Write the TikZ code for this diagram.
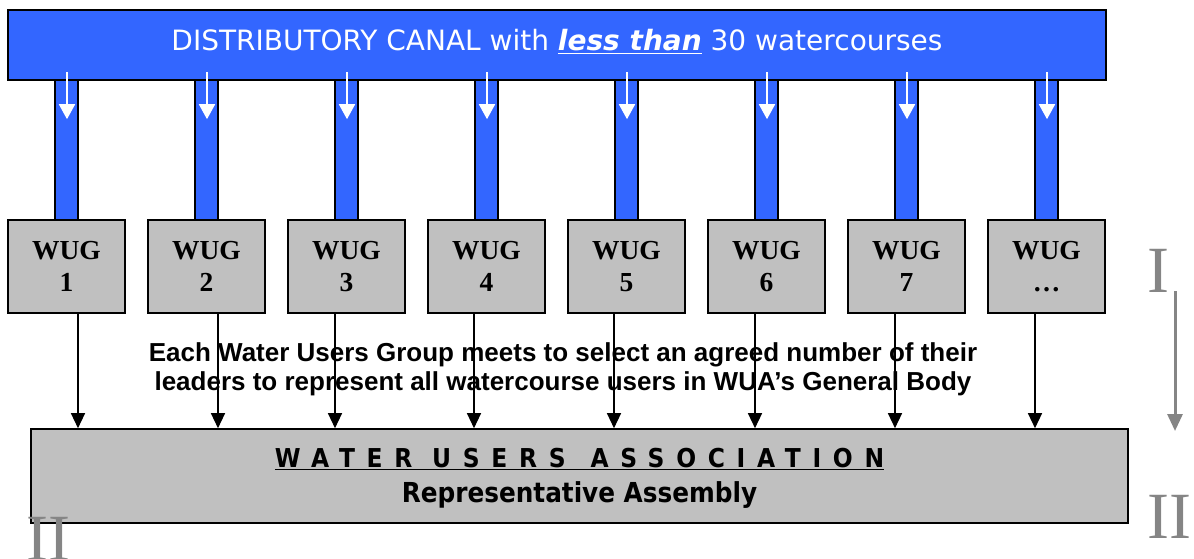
\documentclass[tikz,border=0pt]{standalone}
\usepackage{fontspec}
\setmainfont{Liberation Serif}
\newfontfamily\canalfont{DejaVu Sans}
\newfontfamily\arialfont{Liberation Sans}
\newfontfamily\wuafont{DejaVu Sans Condensed}
\newfontfamily\wuaspaced[LetterSpace=45]{DejaVu Sans Condensed}
\usetikzlibrary{arrows.meta,calc}
\definecolor{canalblue}{HTML}{3366FF}
\definecolor{boxgray}{HTML}{C0C0C0}
\definecolor{numgray}{HTML}{858585}
\tikzset{
  canal/.style={draw=black,line width=1.6pt,fill=canalblue,minimum width=1098pt,minimum height=70pt,inner sep=0pt},
  pipe/.style={draw=black,line width=1.6pt,fill=canalblue,minimum width=23pt,minimum height=140pt,inner sep=0pt},
  wug/.style={draw=black,line width=1.6pt,fill=boxgray,minimum width=117pt,minimum height=93pt,inner sep=0pt,
    align=center,font=\fontsize{27.5}{33}\selectfont\bfseries},
  wua/.style={draw=black,line width=1.6pt,fill=boxgray,minimum width=1097pt,minimum height=94pt,inner sep=0pt},
  warr/.style={draw=white,line width=1.8pt,-{Triangle[width=16pt,length=15pt]}},
  barr/.style={draw=black,line width=1.3pt,-{Triangle[width=14pt,length=15pt]}},
  garr/.style={draw=numgray,line width=3pt,-{Triangle[width=15pt,length=17pt]}},
  roman/.style={text=numgray,font=\fontsize{66}{66}\selectfont,inner sep=0pt,anchor=base}
}
\begin{document}
\begin{tikzpicture}[x=1pt,y=-1pt]
\useasboundingbox (0,0) rectangle (1194,559);
% pipes
\foreach \i in {1,...,8}{
  \node[pipe] (p\i) at ({66.5+140*(\i-1)},150) {};
}
% canal
\node[canal] (canal) at (557,45) {};
\node[text=white,font=\canalfont\fontsize{28}{32}\selectfont,anchor=base] (canaltext) at (557,51)
  {DISTRIBUTORY CANAL with \underline{\textbf{\textit{less than}}} 30 watercourses};
% white arrows
\foreach \i in {1,...,8}{
  \draw[warr] ($(p\i.north)+(0.5,-7)$) -- ($(p\i.north)+(0.5,40)$);
}
% WUG boxes
\foreach \i/\t in {1/1,2/2,3/3,4/4,5/5,6/6,7/7,8/\dots}{
  \node[wug] (w\i) at ({66.5+140*(\i-1)},266.5) {WUG\\[-1pt]\t};
}
% WUA
\node[wua] (wua) at (579.5,476) {};
\node[font=\wuaspaced\fontsize{26}{30}\selectfont\bfseries,anchor=base,inner sep=0pt] (wuat1) at (579.5,467)
  {\underline{WATER USERS \hspace{5pt}ASSOCIATION}};
\node[font=\wuafont\fontsize{27.5}{30}\selectfont\bfseries,anchor=base,inner sep=0pt] (wuat2) at (579.5,502)
  {Representative Assembly};
% middle text
\node[font=\arialfont\fontsize{26}{29}\selectfont\bfseries,align=center,inner sep=0pt] (mid) at (563,369)
  {Each Water Users Group meets to select an agreed number of their\\
   leaders to represent all watercourse users in WUA’s General Body};
% black arrows
\foreach \i/\dx in {1/11.5,2/11.5,3/-11.5,4/-12.5,5/-12.5,6/-11.5,7/-11.5,8/-11.5}{
  \coordinate (a\i) at ($(w\i.south)+(\dx,0)$);
  \draw[barr] (a\i) -- (a\i |- wua.north);
}
% roman numerals and gray arrow
\node[roman] (rI) at (1158,292) {I};
\node[roman] (rII) at (1169,538) {II};
\node[roman] (lII) at (48,560) {II};
\coordinate (g1) at (1175,291);
\coordinate (g2) at (1175,431);
\draw[garr] (g1) -- (g2);
\end{tikzpicture}
\end{document}
